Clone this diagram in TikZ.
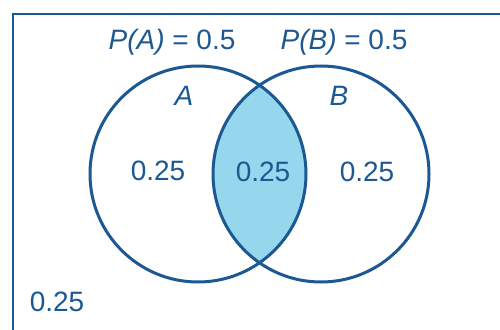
\documentclass[tikz,border=0pt]{standalone}
\usepackage{fontspec}
\setmainfont{Liberation Sans}
\usepackage{tikz}
\definecolor{inkblue}{RGB}{28,88,146}
\definecolor{lensfill}{RGB}{150,215,238}
\tikzset{
  setcirc/.style  = {circle, draw=inkblue, line width=3pt, minimum size=216pt,
                     inner sep=0pt},
  problabel/.style = {text=inkblue, font=\fontsize{28}{32}\selectfont},
  setname/.style  = {text=inkblue, font=\fontsize{28}{32}\selectfont\itshape},
  frameline/.style = {draw=inkblue, line width=2.5pt}
}

\begin{document}
\begin{tikzpicture}[x=1pt,y=-1pt]
  \useasboundingbox (0,0) rectangle (500,329);
  \fill[white] (0,0) rectangle (500,329);
  % sample space frame (runs off the right and bottom edges)
  \draw[frameline] (13,340) -- (13,14) -- (510,14);
  % shaded intersection
  \coordinate (cA) at (198,174);
  \coordinate (cB) at (321,174);
  \begin{scope}
    \clip (cA) circle (108);
    \fill[lensfill] (cB) circle (108);
  \end{scope}
  \node[setcirc] (A) at (cA) {};
  \node[setcirc] (B) at (cB) {};
  \node[problabel] (pa) at (172,42) {\itshape P(A)\upshape{} = 0.5};
  \node[problabel] (pb) at (344,42) {\itshape P(B)\upshape{} = 0.5};
  \node[setname] (la) at (184,96) {A};
  \node[setname] (lb) at (339,96) {B};
  \node[problabel] (onlyA) at (158,171) {0.25};
  \node[problabel] (both)  at (263,172) {0.25};
  \node[problabel] (onlyB) at (367,172) {0.25};
  \node[problabel] (none)  at (57,302)  {0.25};
\end{tikzpicture}
\end{document}
